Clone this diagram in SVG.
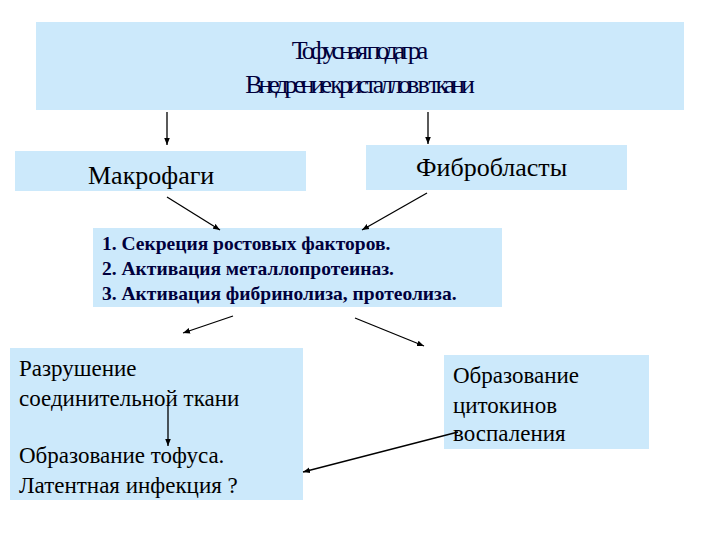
<svg xmlns="http://www.w3.org/2000/svg" width="720" height="540" viewBox="0 0 720 540">
<style>
.b{fill:#cce9fb}
.t{font-family:'Liberation Serif','Times New Roman','DejaVu Serif',serif;fill:#000}
.n{fill:#00003c}
.c line{stroke:#000;stroke-width:1.3;marker-end:url(#a)}
</style>
<defs><marker id="a" viewBox="0 0 10 10" refX="10" refY="5" markerWidth="7" markerHeight="7" orient="auto" markerUnits="userSpaceOnUse"><path d="M0,1L10,5L0,9z" fill="#000"/></marker></defs>
<rect width="720" height="540" fill="#fff"/>
<g id="top"><rect class="b" x="36" y="22" width="648" height="88"/>
<text class="t n" font-family="Liberation Serif, serif" font-size="26" text-anchor="middle" textLength="362"><tspan x="360" y="59">Тофусная подагра</tspan><tspan x="360" y="93">Внедрение кристаллов в ткани</tspan></text></g>
<g id="macro"><rect class="b" x="15" y="151" width="291" height="40"/><text class="t" font-family="Liberation Serif, serif" font-size="26" x="88" y="184">Макрофаги</text></g>
<g id="fibro"><rect class="b" x="366" y="145" width="261" height="45"/><text class="t" font-family="Liberation Serif, serif" font-size="26" x="416" y="176">Фибробласты</text></g>
<g id="mid"><rect class="b" x="93" y="228" width="409" height="79"/>
<text class="t n" font-family="Liberation Serif, serif" font-size="19.5" font-weight="bold"><tspan x="102" y="250">1. Секреция ростовых факторов.</tspan><tspan x="102" y="275">2. Активация металлопротеиназ.</tspan><tspan x="102" y="300">3. Активация фибринолиза, протеолиза.</tspan></text></g>
<g id="left"><rect class="b" x="10" y="348" width="293" height="152"/>
<text class="t" font-family="Liberation Serif, serif" font-size="23"><tspan x="19" y="376">Разрушение</tspan><tspan x="19" y="406">соединительной ткани</tspan><tspan x="19" y="463">Образование тофуса.</tspan><tspan x="19" y="493">Латентная инфекция ?</tspan></text></g>
<g id="right"><rect class="b" x="444" y="355" width="205" height="94"/>
<text class="t" font-family="Liberation Serif, serif" font-size="23"><tspan x="453" y="383">Образование</tspan><tspan x="453" y="413">цитокинов</tspan><tspan x="453" y="441">воспаления</tspan></text></g>
<g class="c">
<line x1="167" y1="112" x2="167" y2="145"/><line x1="428" y1="112" x2="428" y2="144"/>
<line x1="167" y1="197" x2="220" y2="230"/><line x1="427" y1="193" x2="362" y2="230"/>
<line x1="233" y1="316" x2="183" y2="333"/><line x1="355" y1="318" x2="424" y2="346"/>
<line x1="168" y1="406" x2="168" y2="446"/><line x1="458" y1="432" x2="303" y2="472"/>
</g>
</svg>
